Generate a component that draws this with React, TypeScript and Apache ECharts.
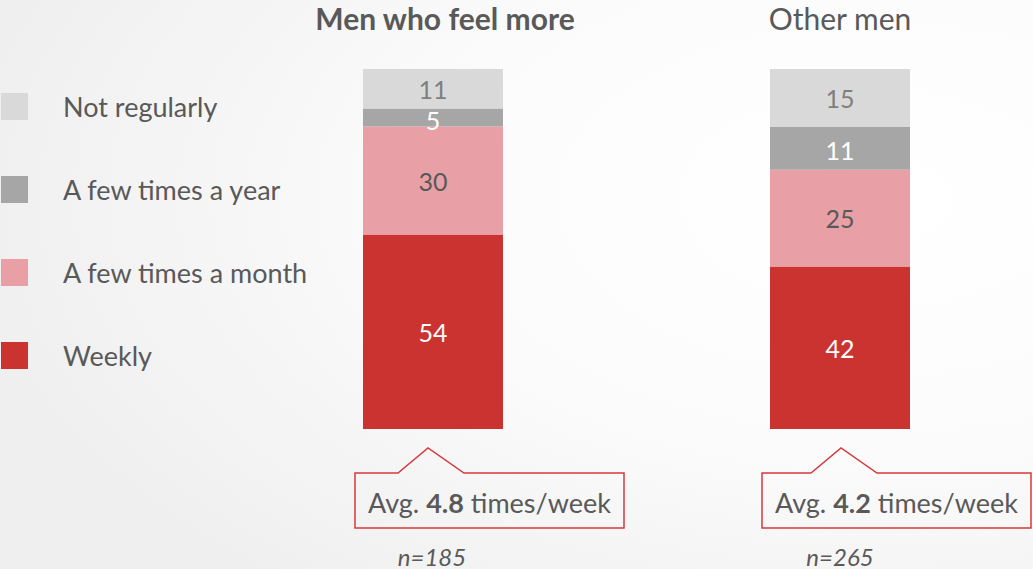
import React, { useEffect, useRef } from "react";
import * as echarts from "echarts";

const groups = ["Men who feel more", "Other men"];
const categories = ["Weekly", "A few times a month", "A few times a year", "Not regularly"];
const legendOrder = ["Not regularly", "A few times a year", "A few times a month", "Weekly"];
const menWhoFeelMore = [54, 30, 5, 11];
const otherMen = [42, 25, 11, 15];
const averages = ["4.8", "4.2"];
const sampleSizes = ["n=185", "n=265"];

const colors = ["#cb3330", "#e8a0a6", "#a6a6a6", "#d9d9d9"];
const labelColors = ["#ffffff", "#595959", "#ffffff", "#7f7f7f"];
const FONT = "Lato, 'Open Sans', sans-serif";
const TEXT = "#595959";

export default function App() {
  const ref = useRef<HTMLDivElement>(null);
  useEffect(() => {
    if (!ref.current) return;
    const chart = echarts.init(ref.current, undefined, { renderer: "svg" });
    const barLefts = [363, 770];
    const barW = 140;
    const values = [menWhoFeelMore, otherMen];
    const grids = barLefts.map((l) => ({ left: l, width: barW, top: 69, height: 360 }));
    const xAxis = groups.map((g, i) => ({
      type: "category",
      gridIndex: i,
      data: [g],
      show: false,
    }));
    const yAxis = values.map((v, i) => ({
      type: "value",
      gridIndex: i,
      min: 0,
      max: v.reduce((a, b) => a + b, 0),
      show: false,
    }));
    const series: any[] = [];
    values.forEach((vals, gi) => {
      categories.forEach((c, ci) => {
        series.push({
          type: "bar",
          name: c,
          xAxisIndex: gi,
          yAxisIndex: gi,
          stack: "s" + gi,
          barWidth: "100%",
          data: [vals[ci]],
          itemStyle: { color: colors[ci] },
          label: {
            show: true,
            position: "inside",
            color: labelColors[ci],
            fontSize: 25,
            lineHeight: 20,
            offset: ci === 2 ? [0, 2] : [0, 0],
            fontFamily: FONT,
          },
        });
      });
    });

    const callout = (cx: number, apexX: number, x0: number, x1: number, avg: string, n: string) => [
      {
        type: "polygon",
        shape: {
          points: [
            [x0, 473],
            [apexX - 30, 473],
            [apexX, 448],
            [apexX + 36, 473],
            [x1, 473],
            [x1, 528],
            [x0, 528],
          ],
        },
        style: { fill: "rgba(255,255,255,0)", stroke: "#d5393d", lineWidth: 1.5 },
      },
      {
        type: "text",
        x: (x0 + x1) / 2,
        y: 502,
        style: {
          text: "{n|Avg. }{b|" + avg + "}{n| times/week}",
          align: "center",
          verticalAlign: "middle",
          rich: {
            n: { fontSize: 27, fontFamily: FONT, fill: TEXT, color: TEXT },
            b: { fontSize: 27, fontFamily: FONT, fontWeight: "bold", fill: TEXT, color: TEXT },
          },
        },
      },
      {
        type: "text",
        x: cx,
        y: 556,
        style: {
          text: n,
          align: "center",
          verticalAlign: "middle",
          fontSize: 24,
          fontStyle: "italic",
          fontFamily: FONT,
          fill: TEXT,
        },
      },
    ];

    const titleText = (x: number, t: string, bold: boolean) => ({
      type: "text",
      x,
      y: 18,
      style: {
        text: t,
        align: "center",
        verticalAlign: "middle",
        fontSize: 30,
        fontWeight: bold ? "bold" : "normal",
        fontFamily: FONT,
        fill: TEXT,
      },
    });

    chart.setOption({
      animation: false,
      backgroundColor: {
        type: "radial",
        x: 0.85,
        y: 0.35,
        r: 0.9,
        colorStops: [
          { offset: 0, color: "#ffffff" },
          { offset: 0.45, color: "#fcfcfc" },
          { offset: 1, color: "#efefef" },
        ],
      },
      grid: grids,
      xAxis,
      yAxis,
      legend: {
        data: legendOrder,
        orient: "vertical",
        left: 1,
        top: 93,
        padding: 0,
        itemWidth: 27,
        itemHeight: 27,
        itemGap: 56,
        icon: "rect",
        selectedMode: false,
        textStyle: {
          fontSize: 27,
          fontFamily: FONT,
          color: TEXT,
          padding: [4, 0, 0, 30],
        },
      },
      graphic: [
        titleText(445, groups[0], true),
        titleText(840, groups[1], false),
        ...callout(432, 428, 355, 624, averages[0], sampleSizes[0]),
        ...callout(840, 841, 762, 1031, averages[1], sampleSizes[1]),
      ],
      series,
    });
    return () => chart.dispose();
  }, []);
  return <div ref={ref} style={{ width: 1033, height: 569, position: "absolute", left: 0, top: 0 }} />;
}
